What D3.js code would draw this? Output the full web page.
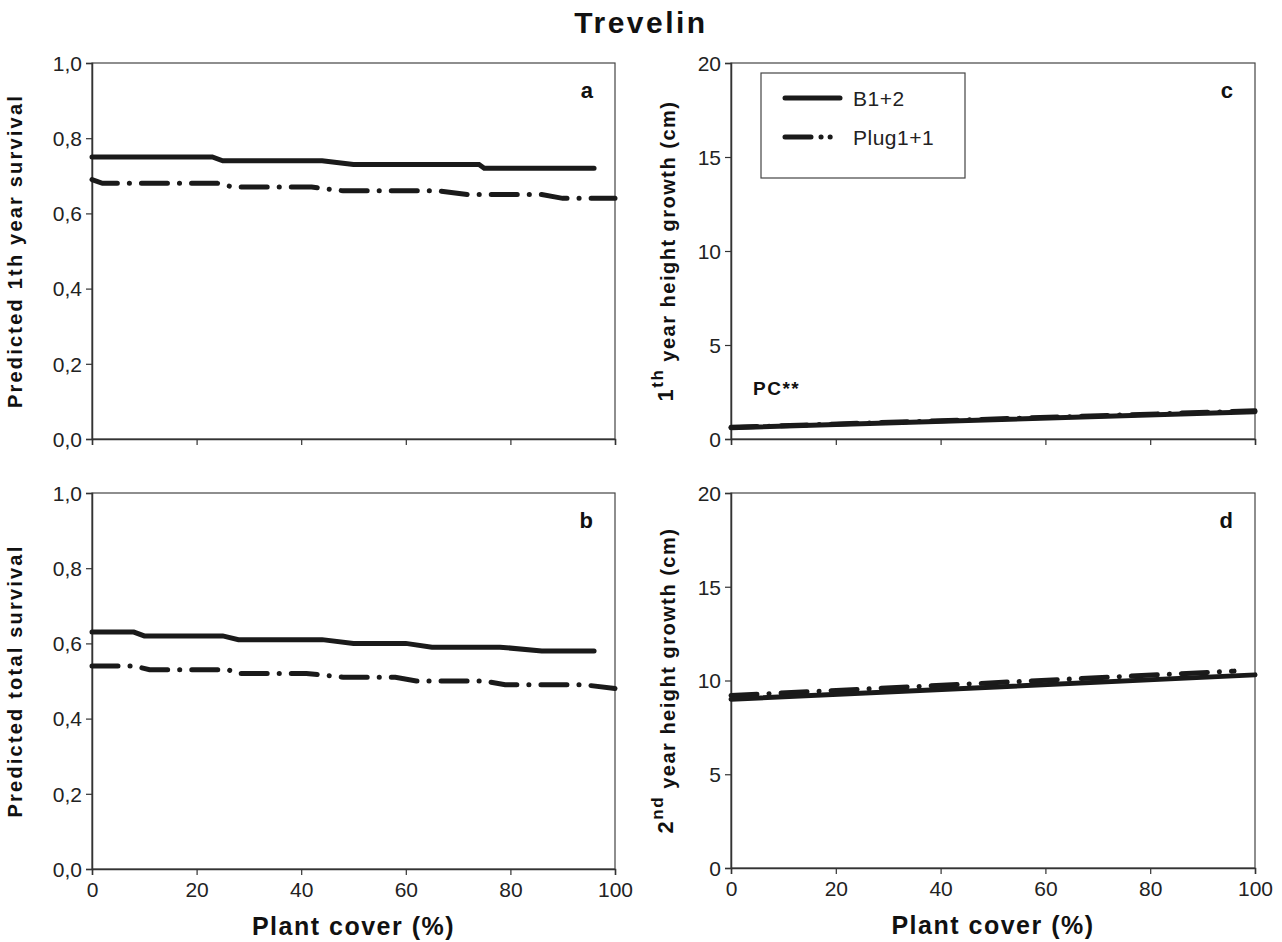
<!DOCTYPE html>
<html><head><meta charset="utf-8">
<script src="https://cdn.jsdelivr.net/npm/d3@7"></script>
<style>
body{margin:0;background:#fff;}
svg{display:block;}
.tick text{font-family:"Liberation Sans Narrow","Arial Narrow","Liberation Sans",sans-serif;fill:#222;}
</style></head>
<body><svg id="c" width="1282" height="942"></svg>
<script>
const title = "Trevelin";
const seriesNames = ["B1+2", "Plug1+1"];
// Panel a: predicted 1th year survival
const aB12x = [0, 23, 25, 44, 50, 74, 75, 96];
const aB12y = [0.75, 0.75, 0.74, 0.74, 0.73, 0.73, 0.72, 0.72];
const aPlugx = [0, 2, 24, 27, 42, 48, 66, 72, 86, 90, 100];
const aPlugy = [0.69, 0.68, 0.68, 0.67, 0.67, 0.66, 0.66, 0.65, 0.65, 0.64, 0.64];
// Panel b: predicted total survival
const bB12x = [0, 8, 10, 25, 28, 44, 50, 60, 65, 78, 86, 96];
const bB12y = [0.63, 0.63, 0.62, 0.62, 0.61, 0.61, 0.60, 0.60, 0.59, 0.59, 0.58, 0.58];
const bPlugx = [0, 8, 11, 26, 28, 41, 48, 58, 62, 75, 79, 94, 100];
const bPlugy = [0.54, 0.54, 0.53, 0.53, 0.52, 0.52, 0.51, 0.51, 0.50, 0.50, 0.49, 0.49, 0.48];
// Panel c: 1th year height growth
const cB12x = [0, 100];
const cB12y = [0.6, 1.45];
const cPlugx = [0, 100];
const cPlugy = [0.62, 1.5];
// Panel d: 2nd year height growth
const dB12x = [0, 100];
const dB12y = [9.0, 10.3];
const dPlugx = [0, 96];
const dPlugy = [9.2, 10.5];

const xTicks = [0, 20, 40, 60, 80, 100];
const survTicks = [0, 0.2, 0.4, 0.6, 0.8, 1.0];
const growthTicks = [0, 5, 10, 15, 20];

const svg = d3.select("#c");
const narrow = '"Liberation Sans Narrow","Arial Narrow","Liberation Sans",sans-serif';
const bold = '"Liberation Sans","Arial",sans-serif';

svg.append("text").attr("x", 641).attr("y", 33).attr("text-anchor", "middle")
  .style("font-family", bold).style("font-weight", "bold").style("font-size", "30px")
  .style("letter-spacing", "2.5px").attr("fill", "#111").text(title);

const panels = [
  {x0: 92, x1: 615, y0: 63, y1: 439, dom: [0, 1], ticks: survTicks, fmt: d => d3.format(".1f")(d).replace(".", ","),
   s1: [aB12x, aB12y], s2: [aPlugx, aPlugy], letter: "a", xlab: false, ylab: ["Predicted 1th year survival"], lx: 70, ls: 2.2},
  {x0: 92, x1: 615, y0: 493, y1: 869, dom: [0, 1], ticks: survTicks, fmt: d => d3.format(".1f")(d).replace(".", ","),
   s1: [bB12x, bB12y], s2: [bPlugx, bPlugy], letter: "b", xlab: true, ylab: ["Predicted total survival"], lx: 70, ls: 2.2},
  {x0: 731, x1: 1255, y0: 63, y1: 439, dom: [0, 20], ticks: growthTicks, fmt: d => String(d),
   s1: [cB12x, cB12y], s2: [cPlugx, cPlugy], letter: "c", xlab: false, ylab: ["1", "th", " year height growth (cm)"], lx: 58, ls: 1.5},
  {x0: 731, x1: 1255, y0: 493, y1: 868, dom: [0, 20], ticks: growthTicks, fmt: d => String(d),
   s1: [dB12x, dB12y], s2: [dPlugx, dPlugy], letter: "d", xlab: true, ylab: ["2", "nd", " year height growth (cm)"], lx: 58, ls: 1.5},
];

panels.forEach(p => {
  const x = d3.scaleLinear().domain([0, 100]).range([p.x0, p.x1]);
  const y = d3.scaleLinear().domain(p.dom).range([p.y1, p.y0]);
  const g = svg.append("g");
  g.append("rect").attr("x", p.x0).attr("y", p.y0).attr("width", p.x1 - p.x0).attr("height", p.y1 - p.y0)
    .attr("fill", "none").attr("stroke", "#444").attr("stroke-width", 1.2);
  const xa = g.append("g").attr("transform", `translate(0,${p.y1})`)
    .call(d3.axisBottom(x).tickValues(xTicks).tickSize(6).tickPadding(4).tickFormat(p.xlab ? d => d : () => ""));
  const ya = g.append("g").attr("transform", `translate(${p.x0},0)`)
    .call(d3.axisLeft(y).tickValues(p.ticks).tickSize(6).tickPadding(4).tickFormat(p.fmt));
  [xa, ya].forEach(a => {
    a.select(".domain").attr("stroke", "#333").attr("stroke-width", 1.5);
    a.selectAll(".tick line").attr("stroke", "#333").attr("stroke-width", 1.2);
    a.selectAll(".tick text").style("font-size", "21px");
  });
  xa.selectAll(".tick text").attr("dy", "0.85em");
  ya.selectAll(".tick text").attr("dy", "0.35em");

  const line = d3.line().x(d => x(d[0])).y(d => y(d[1]));
  const mk = s => s[0].map((v, i) => [v, s[1][i]]);
  g.append("path").datum(mk(p.s2)).attr("d", line).attr("fill", "none").attr("stroke", "#1a1a1a")
    .attr("stroke-width", 5).attr("stroke-linecap", "round").attr("stroke-dasharray", "26 12 0.1 12");
  g.append("path").datum(mk(p.s1)).attr("d", line).attr("fill", "none").attr("stroke", "#1a1a1a")
    .attr("stroke-width", 5).attr("stroke-linecap", "round");

  g.append("text").attr("x", p.x1 - 22).attr("y", p.y0 + 35).attr("text-anchor", "end")
    .style("font-family", bold).style("font-weight", "bold").style("font-size", "22px").attr("fill", "#111").text(p.letter);

  if (p.xlab) {
    g.append("text").attr("x", (p.x0 + p.x1) / 2).attr("y", p.y1 + 66).attr("text-anchor", "middle")
      .style("font-family", bold).style("font-weight", "bold").style("font-size", "25px")
      .style("letter-spacing", "1.5px").attr("fill", "#111").text("Plant cover (%)");
  }
  const cy = (p.y0 + p.y1) / 2;
  const t = g.append("text").attr("transform", `translate(${p.x0 - p.lx},${cy}) rotate(-90)`).attr("text-anchor", "middle")
    .style("font-family", bold).style("font-weight", "bold").style("font-size", "20px")
    .style("letter-spacing", p.ls + "px").attr("fill", "#111");
  if (p.ylab.length === 1) {
    t.text(p.ylab[0]);
  } else {
    t.append("tspan").style("font-size", "22px").text(p.ylab[0]);
    t.append("tspan").attr("dy", "-0.6em").style("font-size", "17px").text(p.ylab[1]);
    t.append("tspan").attr("dy", "0.6em").text(p.ylab[2]);
  }
});

// PC** annotation
svg.append("text").attr("x", 753).attr("y", 395).style("font-family", bold).style("font-weight", "bold")
  .style("font-size", "19px").style("letter-spacing", "1.5px").attr("fill", "#111").text("PC**");

// legend
const lg = svg.append("g");
lg.append("rect").attr("x", 761).attr("y", 73).attr("width", 204).attr("height", 105)
  .attr("fill", "#fff").attr("stroke", "#444").attr("stroke-width", 1.2);
const ly = [98, 137];
lg.append("line").attr("x1", 785).attr("x2", 840).attr("y1", ly[0]).attr("y2", ly[0])
  .attr("stroke", "#1a1a1a").attr("stroke-width", 5).attr("stroke-linecap", "round");
lg.append("line").attr("x1", 785).attr("x2", 840).attr("y1", ly[1]).attr("y2", ly[1])
  .attr("stroke", "#1a1a1a").attr("stroke-width", 5).attr("stroke-linecap", "round").attr("stroke-dasharray", "26 10 0.1 9 0.1 30");
seriesNames.forEach((n, i) => {
  lg.append("text").attr("x", 853).attr("y", ly[i]).attr("dy", "0.36em")
    .style("font-family", narrow).style("font-size", "21px").style("letter-spacing", "0.5px").attr("fill", "#222").text(n);
});
</script></body></html>
